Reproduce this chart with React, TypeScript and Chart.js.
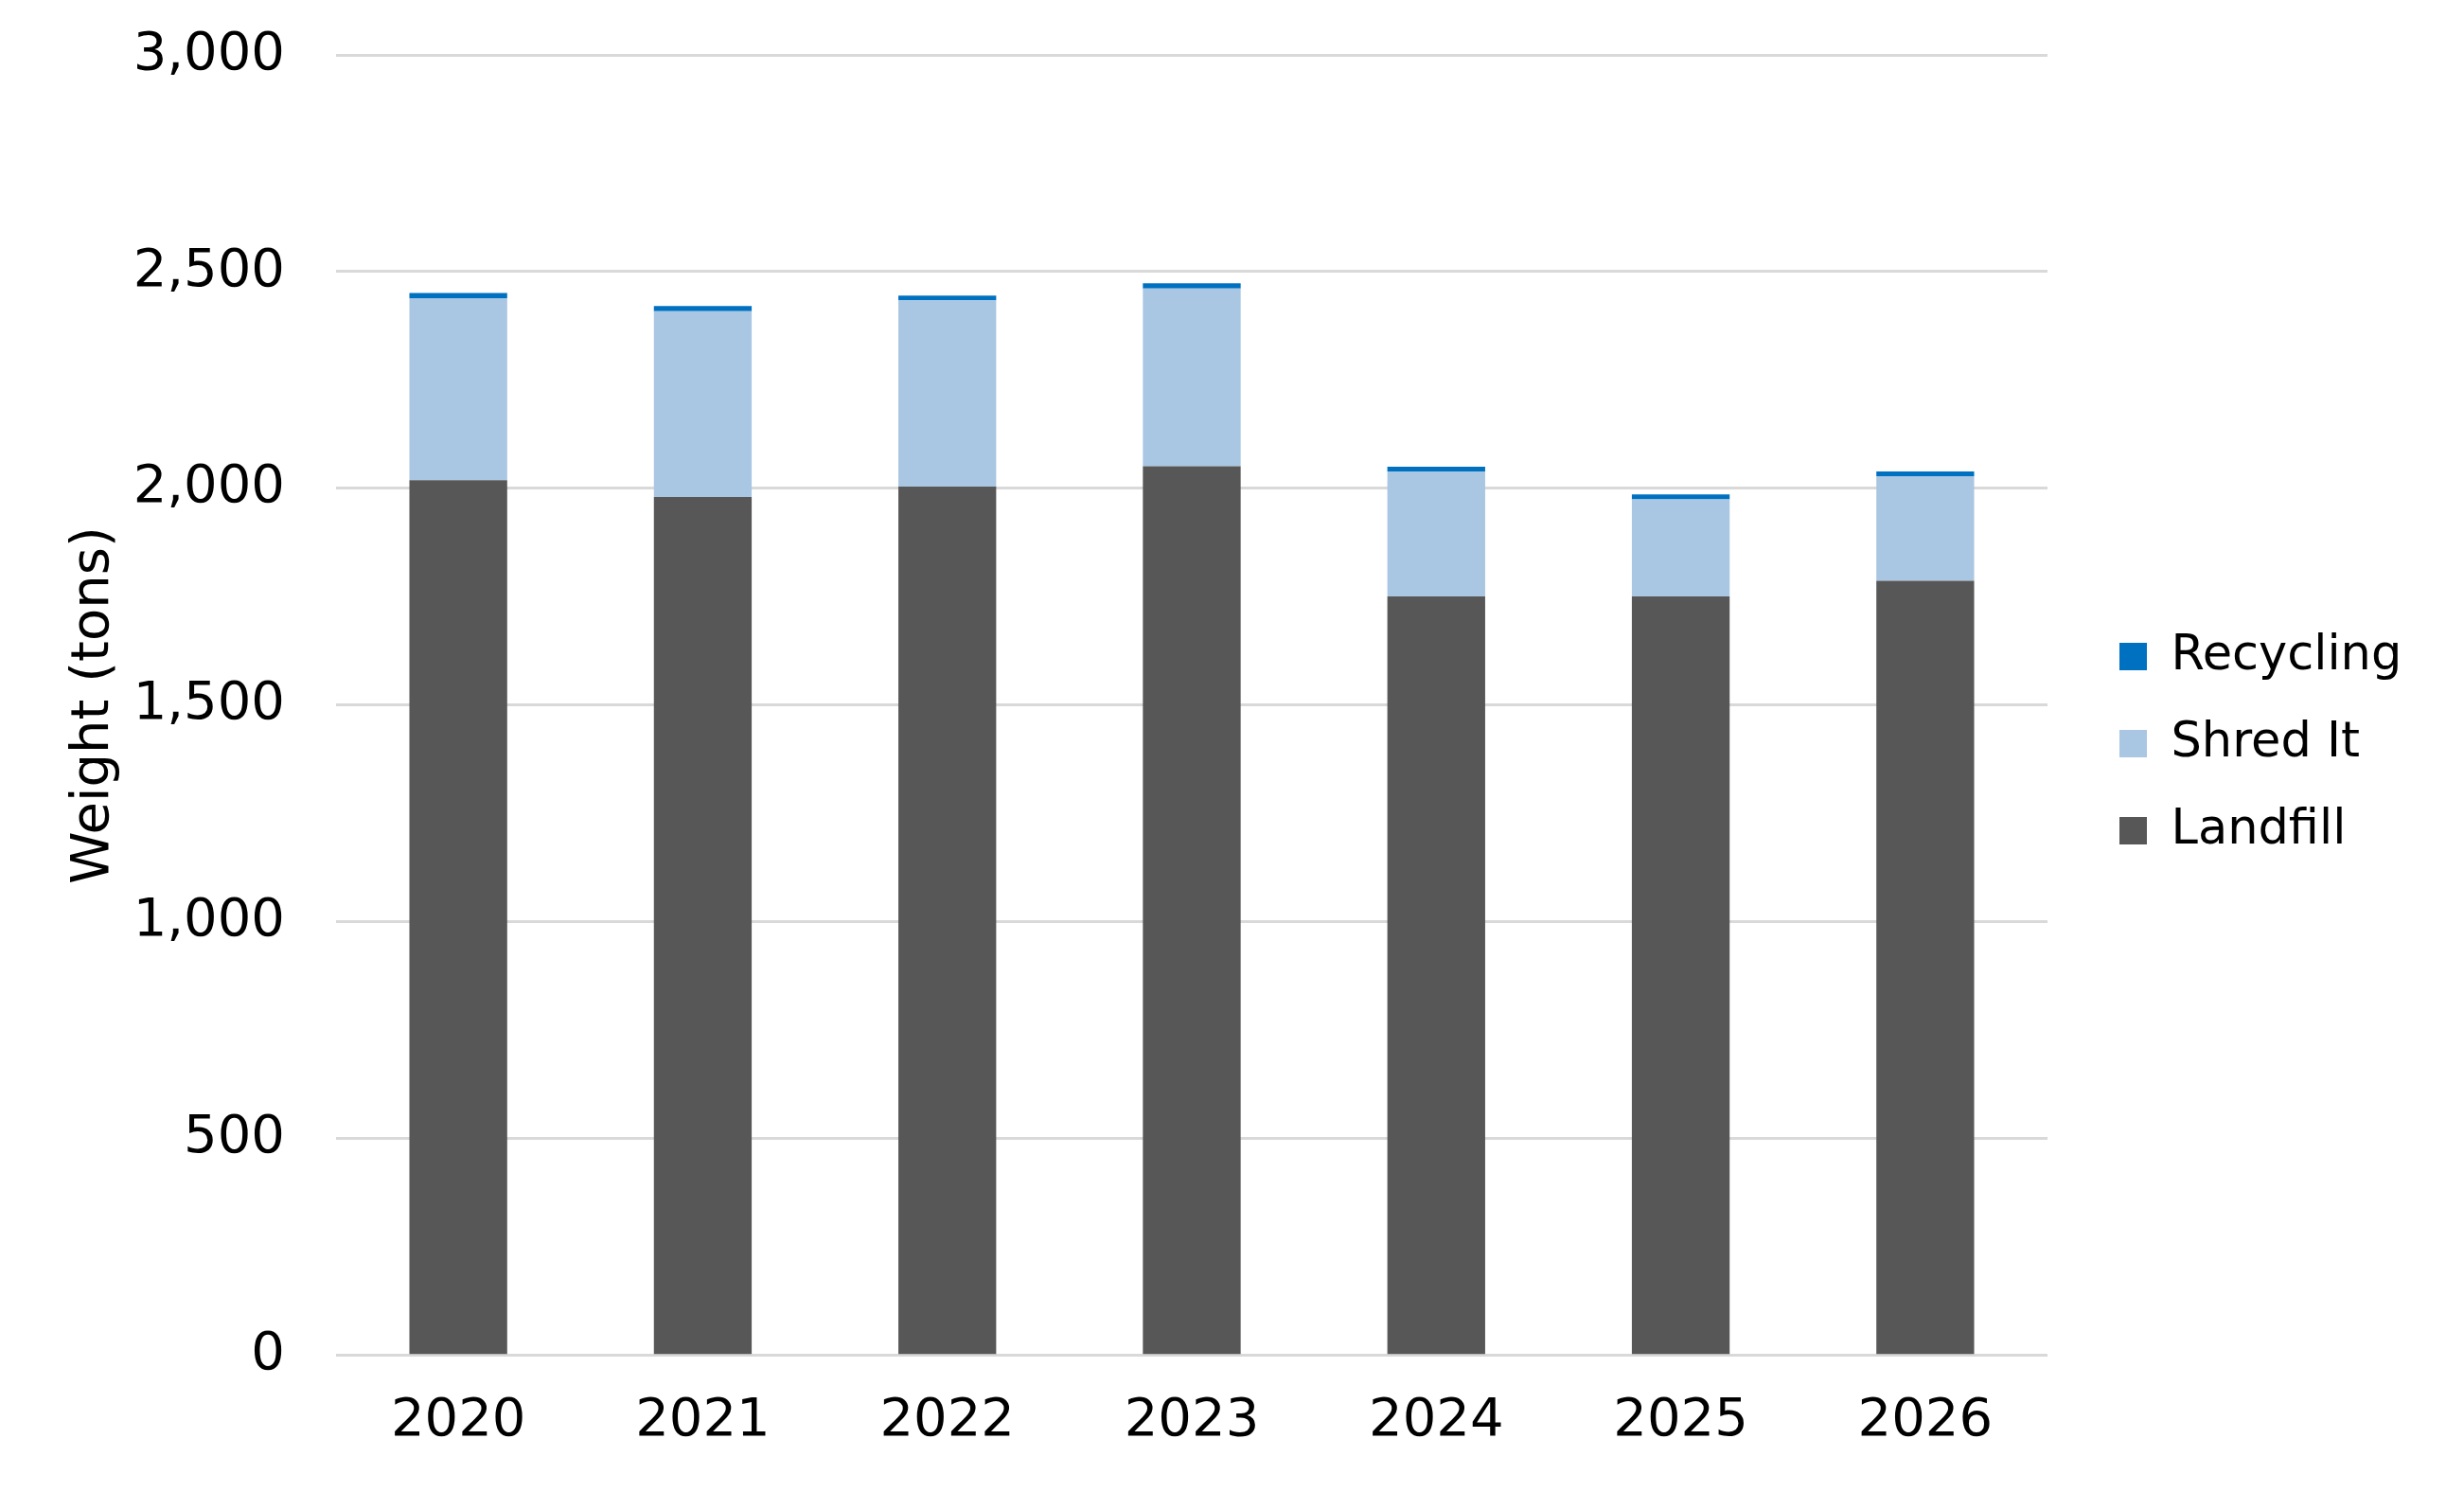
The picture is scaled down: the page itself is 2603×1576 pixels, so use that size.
import React, { useEffect, useRef } from "react";
import { Chart, registerables } from "chart.js";

Chart.register(...registerables);

const categories = ["2020", "2021", "2022", "2023", "2024", "2025", "2026"];
const landfill = [2019, 1980, 2004, 2051, 1751, 1751, 1787];
const shredIt = [420, 429, 430, 410, 288, 224, 241];
const recycling = [12, 12, 11, 12, 11, 11, 11];
const yTicks = [0, 500, 1000, 1500, 2000, 2500, 3000];

const FONT = "'DejaVu Sans', sans-serif";

const legendShift = {
  id: "legendShift",
  afterLayout(chart: any) {
    const l = chart.legend;
    if (l) {
      l.left += 35;
      l.right = chart.width;
      l.width = l.right - l.left;
      l.top -= 29;
      l.bottom -= 29;
    }
  },
};

export default function App() {
  const ref = useRef<HTMLCanvasElement | null>(null);

  useEffect(() => {
    if (!ref.current) return;
    const chart = new Chart(ref.current, {
      type: "bar",
      data: {
        labels: categories,
        datasets: [
          { label: "Landfill", data: landfill, backgroundColor: "#575757", borderWidth: 0 },
          { label: "Shred It", data: shredIt, backgroundColor: "#A9C6E2", borderWidth: 0 },
          { label: "Recycling", data: recycling, backgroundColor: "#0070C0", borderWidth: 0 },
        ],
      },
      options: {
        animation: false,
        responsive: false,
        devicePixelRatio: 1,
        layout: { padding: { left: 0, top: 58, right: 140, bottom: 5 } },
        datasets: { bar: { categoryPercentage: 1, barPercentage: 0.4 } },
        plugins: {
          tooltip: { enabled: false },
          legend: {
            position: "right",
            reverse: true,
            maxWidth: 300,
            labels: {
              boxWidth: 29,
              boxHeight: 29,
              padding: 41,
              color: "#000",
              font: { family: FONT, size: 51 },
            },
          },
        },
        scales: {
          x: {
            stacked: true,
            grid: { display: false, drawTicks: false },
            border: { display: false },
            ticks: { color: "#000", padding: 36, font: { family: FONT, size: 56 } },
          },
          y: {
            stacked: true,
            min: yTicks[0],
            max: yTicks[yTicks.length - 1],
            afterFit: (s: any) => {
              s.width = 355;
            },
            afterBuildTicks: (s: any) => {
              s.ticks = yTicks.map((v) => ({ value: v }));
            },
            grid: {
              color: "#D9D9D9",
              lineWidth: 3,
              drawTicks: true,
              tickLength: 54,
              tickColor: "rgba(0,0,0,0)",
            },
            border: { display: false },
            ticks: {
              color: "#000",
              padding: 0,
              font: { family: FONT, size: 56 },
              callback: (v: any) => Number(v).toLocaleString("en-US"),
            },
            title: {
              display: true,
              text: "Weight (tons)",
              color: "#000",
              padding: { top: 66, bottom: 0 },
              font: { family: FONT, size: 56 },
            },
          },
        },
      },
      plugins: [legendShift],
    });
    return () => chart.destroy();
  }, []);

  return (
    <div style={{ position: "absolute", left: 0, top: 0, width: 2603, height: 1576, background: "#fff" }}>
      <canvas ref={ref} width={2603} height={1576} />
    </div>
  );
}
